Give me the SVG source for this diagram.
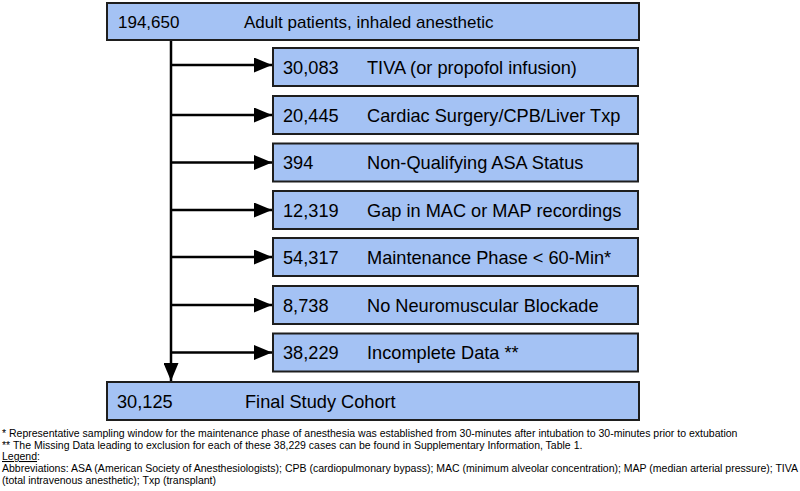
<svg xmlns="http://www.w3.org/2000/svg" width="800" height="491" viewBox="0 0 800 491">
<style>
.box{fill:#a4c2f4;stroke:#1e1e1e;stroke-width:2}
.t{font-family:"Liberation Sans",Arial,sans-serif;font-size:18.2px;fill:#000}
.t0{font-family:"Liberation Sans",Arial,sans-serif;font-size:17px;fill:#000}
.f{font-family:"Liberation Sans",Arial,sans-serif;font-size:10.5px;fill:#000}
.c{stroke:#000;stroke-width:2.5;fill:none}
</style>
<defs>
<marker id="ah2" markerWidth="18" markerHeight="15" refX="18" refY="7.5" orient="auto" markerUnits="userSpaceOnUse" viewBox="0 0 18 15">
<path d="M0,0 L18,7.5 L0,15 Z" fill="#000"/>
</marker>
</defs>
<rect width="800" height="491" fill="#fff"/>
<g id="connectors">
<path class="c" d="M171,40 V381" marker-end="url(#ah2)"/>
<path class="c" d="M171,65 H272" marker-end="url(#ah2)"/>
<path class="c" d="M171,115 H272" marker-end="url(#ah2)"/>
<path class="c" d="M171,162.5 H272" marker-end="url(#ah2)"/>
<path class="c" d="M171,210 H272" marker-end="url(#ah2)"/>
<path class="c" d="M171,257 H272" marker-end="url(#ah2)"/>
<path class="c" d="M171,305 H272" marker-end="url(#ah2)"/>
<path class="c" d="M171,352.5 H272" marker-end="url(#ah2)"/>
</g>
<g id="start">
<rect class="box" x="107" y="3" width="532" height="37"/>
<text class="t0" x="118" y="28">194,650</text>
<text class="t0" x="244" y="28">Adult patients, inhaled anesthetic</text>
</g>
<g id="ex1">
<rect class="box" x="273" y="48" width="365" height="38"/>
<text class="t" x="283" y="73.5">30,083</text>
<text class="t" x="367" y="73.5">TIVA (or propofol infusion)</text>
</g>
<g id="ex2">
<rect class="box" x="273" y="96" width="365" height="38"/>
<text class="t" x="283" y="121.5">20,445</text>
<text class="t" x="367" y="121.5">Cardiac Surgery/CPB/Liver Txp</text>
</g>
<g id="ex3">
<rect class="box" x="273" y="143.5" width="365" height="38"/>
<text class="t" x="283" y="169">394</text>
<text class="t" x="367" y="169">Non-Qualifying ASA Status</text>
</g>
<g id="ex4">
<rect class="box" x="273" y="191" width="365" height="38"/>
<text class="t" x="283" y="216.5">12,319</text>
<text class="t" x="367" y="216.5">Gap in MAC or MAP recordings</text>
</g>
<g id="ex5">
<rect class="box" x="273" y="238" width="365" height="38"/>
<text class="t" x="283" y="263.5">54,317</text>
<text class="t" x="367" y="263.5">Maintenance Phase &lt; 60-Min*</text>
</g>
<g id="ex6">
<rect class="box" x="273" y="286" width="365" height="38"/>
<text class="t" x="283" y="311.5">8,738</text>
<text class="t" x="367" y="311.5">No Neuromuscular Blockade</text>
</g>
<g id="ex7">
<rect class="box" x="273" y="333.5" width="365" height="38"/>
<text class="t" x="283" y="359">38,229</text>
<text class="t" x="367" y="359">Incomplete Data **</text>
</g>
<g id="final">
<rect class="box" x="107" y="382" width="532" height="38"/>
<text class="t" x="117" y="407.5">30,125</text>
<text class="t" x="245" y="407.5">Final Study Cohort</text>
</g>
<g id="notes">
<text class="f" x="2" y="437">* Representative sampling window for the maintenance phase of anesthesia was established from 30-minutes after intubation to 30-minutes prior to extubation</text>
<text class="f" x="2" y="449">** The Missing Data leading to exclusion for each of these 38,229 cases can be found in Supplementary Information, Table 1.</text>
<text class="f" x="2" y="460"><tspan text-decoration="underline">Legend</tspan>:</text>
<text class="f" x="2" y="472" textLength="796" lengthAdjust="spacingAndGlyphs">Abbreviations: ASA (American Society of Anesthesiologists); CPB (cardiopulmonary bypass); MAC (minimum alveolar concentration); MAP (median arterial pressure); TIVA</text>
<text class="f" x="2" y="484">(total intravenous anesthetic); Txp (transplant)</text>
</g>
</svg>
